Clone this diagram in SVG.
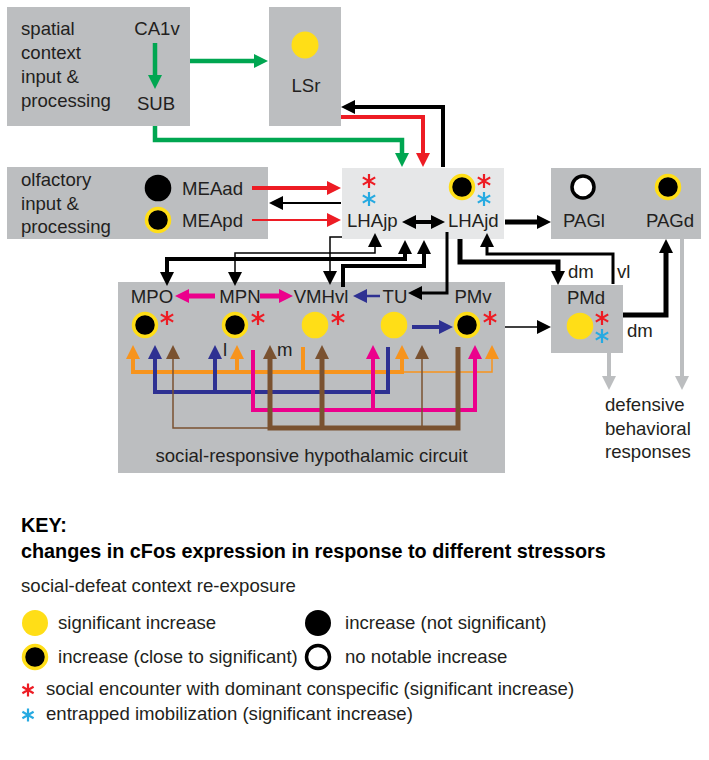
<svg xmlns="http://www.w3.org/2000/svg" width="709" height="760" viewBox="0 0 709 760">
<style>
.box{fill:#bcbec0}
.lbox{fill:#e6e7e8}
text{font-family:"Liberation Sans",Arial,Helvetica,sans-serif;font-size:18.6px;fill:#231f20}
.c{text-anchor:middle}
.b{font-weight:bold;font-size:19.8px;fill:#000}
.yel{fill:#ffde17}
.blk{fill:#000}
.ring{fill:#000;stroke:#ffde17;stroke-width:3.5}
.wht{fill:#fff;stroke:#000;stroke-width:3.5}
.ar{fill:none;stroke:#ed1c24;stroke-width:2.2;stroke-linecap:butt}
.ab{fill:none;stroke:#27aae1;stroke-width:2.2;stroke-linecap:butt}
#connectors path{fill:none;stroke-linejoin:miter}
.k{stroke:#000;marker-end:url(#mk)}
.g{stroke:#00a651;stroke-width:4.5;marker-end:url(#mg)}
.r{stroke:#ed1c24;marker-end:url(#mr)}
.m{stroke:#ec008c;marker-end:url(#mm)}
.bl{stroke:#2e3192;marker-end:url(#mb)}
.o{stroke:#f7941d;marker-end:url(#mo)}
.n{stroke:#7a5230;marker-end:url(#mn)}
.gy{stroke:#bcbec0;stroke-width:4;marker-end:url(#my)}
.both{marker-start:url(#mk)}
.nh{marker-end:none}
</style>
<defs>
<marker id="mk" markerUnits="userSpaceOnUse" markerWidth="14" markerHeight="14" refX="2" refY="7" orient="auto-start-reverse"><path d="M0,0L14,7L0,14z" fill="#000"/></marker>
<marker id="mg" markerUnits="userSpaceOnUse" markerWidth="14" markerHeight="14" refX="2" refY="7" orient="auto"><path d="M0,0L14,7L0,14z" fill="#00a651"/></marker>
<marker id="mr" markerUnits="userSpaceOnUse" markerWidth="14" markerHeight="14" refX="2" refY="7" orient="auto"><path d="M0,0L14,7L0,14z" fill="#ed1c24"/></marker>
<marker id="mm" markerUnits="userSpaceOnUse" markerWidth="14" markerHeight="14" refX="2" refY="7" orient="auto"><path d="M0,0L14,7L0,14z" fill="#ec008c"/></marker>
<marker id="mb" markerUnits="userSpaceOnUse" markerWidth="14" markerHeight="14" refX="2" refY="7" orient="auto"><path d="M0,0L14,7L0,14z" fill="#2e3192"/></marker>
<marker id="mo" markerUnits="userSpaceOnUse" markerWidth="14" markerHeight="14" refX="2" refY="7" orient="auto-start-reverse"><path d="M0,0L14,7L0,14z" fill="#f7941d"/></marker>
<marker id="mn" markerUnits="userSpaceOnUse" markerWidth="14" markerHeight="14" refX="2" refY="7" orient="auto"><path d="M0,0L14,7L0,14z" fill="#7a5230"/></marker>
<marker id="my" markerUnits="userSpaceOnUse" markerWidth="14" markerHeight="14" refX="2" refY="7" orient="auto"><path d="M0,0L14,7L0,14z" fill="#bcbec0"/></marker>
<path id="ast" d="M0,-7V7M-6.2,-3.6L6.2,3.6M-6.2,3.6L6.2,-3.6"/>
<path id="asts" d="M0,-6.5V6.5M-5.6,-3.2L5.6,3.2M-5.6,3.2L5.6,-3.2"/>
</defs>

<g id="spatial">
<rect class="box" x="7" y="7" width="183" height="119"/>
<text x="21" y="35">spatial</text>
<text x="21" y="59">context</text>
<text x="21" y="83">input &amp;</text>
<text x="21" y="107">processing</text>
</g>
<g id="CA1v"><text class="c" x="157" y="35">CA1v</text></g>
<g id="SUB"><text class="c" x="156" y="110">SUB</text></g>

<g id="LSr">
<rect class="box" x="269" y="7" width="72" height="119"/>
<circle class="yel" cx="305" cy="45" r="13.5"/>
<text class="c" x="306" y="92">LSr</text>
</g>

<g id="olfactory">
<rect class="box" x="7" y="167" width="261" height="72"/>
<text x="21" y="186">olfactory</text>
<text x="21" y="210">input &amp;</text>
<text x="21" y="233">processing</text>
</g>
<g id="MEAad">
<circle class="blk" cx="158" cy="188" r="13.3"/>
<text x="182" y="194.5">MEAad</text>
</g>
<g id="MEApd">
<circle class="ring" cx="158" cy="220" r="11.5"/>
<text x="182" y="226.5">MEApd</text>
</g>

<g id="LHA">
<rect class="lbox" x="342" y="168" width="162" height="71"/>
</g>
<g id="LHAjp">
<use href="#ast" class="ar" x="369" y="181"/>
<use href="#ast" class="ab" x="369" y="199"/>
<text x="347" y="227">LHAjp</text>
</g>
<g id="LHAjd">
<circle class="ring" cx="462" cy="187" r="11.5"/>
<use href="#ast" class="ar" x="484" y="181"/>
<use href="#ast" class="ab" x="484" y="199"/>
<text x="448" y="227">LHAjd</text>
</g>

<g id="PAG">
<rect class="box" x="551" y="168" width="150" height="71"/>
</g>
<g id="PAGl">
<circle class="wht" cx="583" cy="187" r="11"/>
<text class="c" x="584" y="227">PAGl</text>
</g>
<g id="PAGd">
<circle class="ring" cx="668" cy="187" r="11.5"/>
<text class="c" x="670" y="227">PAGd</text>
</g>

<g id="hypothalamic">
<rect class="box" x="118" y="282" width="387" height="191"/>
<text class="c" x="311.5" y="462">social-responsive hypothalamic circuit</text>
</g>
<g id="MPO">
<text class="c" x="152" y="303">MPO</text>
<circle class="ring" cx="145" cy="325" r="11.5"/>
<use href="#ast" class="ar" x="167" y="318"/>
</g>
<g id="MPN">
<text class="c" x="240" y="303">MPN</text>
<circle class="ring" cx="235" cy="325" r="11.5"/>
<use href="#ast" class="ar" x="258" y="318"/>
</g>
<g id="VMHvl">
<text class="c" x="321" y="303">VMHvl</text>
<circle class="yel" cx="315" cy="325" r="13.3"/>
<use href="#ast" class="ar" x="338" y="318"/>
<text x="223" y="356">l</text>
<text x="277" y="356">m</text>
</g>
<g id="TU">
<text class="c" x="395" y="303">TU</text>
<circle class="yel" cx="394" cy="325" r="13.3"/>
</g>
<g id="PMv">
<text class="c" x="473" y="303">PMv</text>
<circle class="ring" cx="467" cy="325" r="11.5"/>
<use href="#ast" class="ar" x="490" y="318"/>
</g>

<g id="PMd">
<rect class="box" x="551" y="285" width="72" height="68"/>
<text class="c" x="586" y="304">PMd</text>
<circle class="yel" cx="580" cy="326" r="13.3"/>
<use href="#ast" class="ar" x="602" y="318"/>
<use href="#ast" class="ab" x="602" y="336"/>
</g>

<g id="defensive">
<text x="605" y="411">defensive</text>
<text x="605" y="435">behavioral</text>
<text x="605" y="458">responses</text>
</g>

<g id="connectors">
<path class="g" d="M155,43V77"/>
<path class="g" d="M190,61H256"/>
<path class="g" d="M155,126V140H402V155"/>
<path class="r" stroke-width="4" d="M341,117H423V155"/>
<path class="r" stroke-width="4" d="M252,188H329"/>
<path class="r" stroke-width="2" d="M252,220H329"/>
<path class="k" stroke-width="4" d="M443,167V107H353"/>
<path class="k" stroke-width="2" d="M341,203H281"/>
<path class="k both" stroke-width="4" d="M414,222H433"/>
<path class="k" stroke-width="5" d="M505,222H539"/>
<path class="k both" stroke-width="1.5" d="M375,245V253H235V274"/>
<path class="k" stroke-width="1.5" d="M342,237H330V273"/>
<path class="k both" stroke-width="4" d="M405,252V259H167V274"/>
<path class="k" stroke-width="4" d="M343,287V266H424V252"/>
<path class="k" stroke-width="3" d="M447,232V293H420"/>
<path class="k" stroke-width="5" d="M460,239V262H558V273"/>
<path class="k" stroke-width="3" d="M613,284V254H487V245"/>
<path class="k" stroke-width="1.5" d="M505,327H539"/>
<path class="k" stroke-width="5" d="M623,315H666V251"/>
<path class="gy" d="M609,353V378"/>
<path class="gy" d="M682,239V378"/>
<path class="m" stroke-width="5" d="M215,296H187"/>
<path class="m" stroke-width="5" d="M260,296H281"/>
<path class="bl" stroke-width="2.5" d="M380,296H365"/>
<path class="bl" stroke-width="4" d="M412,327H441"/>
<path class="o" stroke-width="4" style="marker-start:url(#mo)" d="M133,357V372H402V357"/>
<path class="o" stroke-width="4" d="M237,372V357"/>
<path class="o nh" stroke-width="4" d="M303,347V372"/>
<path class="o" stroke-width="1.5" d="M402,372H492V357"/>
<path class="bl" stroke-width="4" d="M388,347V392H155V357"/>
<path class="bl" stroke-width="4" d="M215,392V357"/>
<path class="m" stroke-width="4" d="M253,350V410H475V357"/>
<path class="m" stroke-width="4" d="M373,410V357"/>
<path class="n" stroke-width="1.5" d="M268,428H173V357"/>
<path class="n" stroke-width="1.5" d="M422,428V357"/>
<path class="n" stroke-width="5" d="M458,347V428H270V357"/>
<path class="n" stroke-width="5" d="M322,428V357"/>
</g>

<g id="dm-top"><text x="568" y="278">dm</text></g>
<g id="vl"><text x="617" y="278">vl</text></g>
<g id="dm-bottom"><text x="627" y="337">dm</text></g>

<g id="key">
<text class="b" x="21" y="532">KEY:</text>
<text class="b" x="21" y="558">changes in cFos expression in response to different stressors</text>
<text x="21" y="592">social-defeat context re-exposure</text>
<circle class="yel" cx="35" cy="623" r="13"/>
<text x="58" y="629">significant increase</text>
<circle class="blk" cx="318" cy="623" r="13"/>
<text x="345" y="629">increase (not significant)</text>
<circle class="ring" cx="35" cy="657" r="11.5"/>
<text x="58" y="663">increase (close to significant)</text>
<circle class="wht" cx="318" cy="657" r="11.5"/>
<text x="345" y="663">no notable increase</text>
<use href="#asts" class="ar" x="28" y="690"/>
<text x="46" y="695">social encounter with dominant conspecific (significant increase)</text>
<use href="#asts" class="ab" x="28" y="715"/>
<text x="46" y="720">entrapped imobilization (significant increase)</text>
</g>
</svg>
